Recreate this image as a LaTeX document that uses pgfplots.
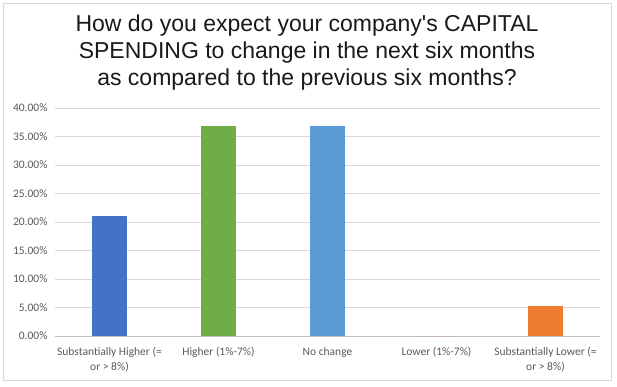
\documentclass[border=0pt]{standalone}
\usepackage{pgfplots}
\pgfplotsset{compat=1.18}
\usepackage{fontspec}
\setmainfont{Liberation Sans}
\newfontfamily\calib{Carlito}
\definecolor{cblue}{HTML}{4472C4}
\definecolor{cgreen}{HTML}{70AD47}
\definecolor{clblue}{HTML}{5B9BD5}
\definecolor{corange}{HTML}{ED7D31}
\definecolor{tickgray}{HTML}{595959}
\begin{document}
\begin{tikzpicture}[x=1bp,y=1bp]
\path[use as bounding box] (0,0) rectangle (617,386);
\draw[draw=black!15,line width=0.9bp] (3,6) rectangle (611,383);
\node[align=center,font=\fontsize{23bp}{27bp}\selectfont,text=black!90,inner sep=0pt] at (307,333.5) {How do you expect your company\textquotesingle s CAPITAL\\SPENDING to change in the next six months\\as compared to the previous six months?};
\begin{axis}[
  at={(55bp,50bp)}, anchor=south west,
  scale only axis, width=545bp, height=228bp,
  xmin=-0.5, xmax=4.5, ymin=0, ymax=40,
  ybar, bar width=35bp, bar shift=0pt,
  axis line style={draw=none},
  axis x line*=bottom, axis y line*=left,
  ytick={0,5,...,40},
  ymajorgrids, grid style={draw=black!15, line width=0.75bp},
  major tick length=0pt,
  xtick={0,1,2,3,4},
  xticklabels={{Substantially Higher (=\\or > 8\%)},{Higher (1\%-7\%)},{No change},{Lower (1\%-7\%)},{Substantially Lower (=\\or > 8\%)}},
  xticklabel style={align=center,font=\calib\fontsize{11.5bp}{15bp}\selectfont,text=tickgray,yshift=-8bp},
  yticklabel style={font=\calib\fontsize{11.5bp}{13bp}\selectfont,text=tickgray,xshift=-4bp},
  yticklabel={\pgfmathprintnumber[fixed,fixed zerofill,precision=2,assume math mode=true]{\tick}\%},
  clip=false,
]
\draw[black!25,line width=0.8bp] (axis cs:-0.5,0) -- (axis cs:4.5,0);
\addplot[fill=cblue,draw=none] coordinates {(0,21.05)};
\addplot[fill=cgreen,draw=none] coordinates {(1,36.84)};
\addplot[fill=clblue,draw=none] coordinates {(2,36.84)};
\addplot[fill=corange,draw=none] coordinates {(3,0)};
\addplot[fill=corange,draw=none] coordinates {(4,5.26)};
\end{axis}
\end{tikzpicture}
\end{document}
